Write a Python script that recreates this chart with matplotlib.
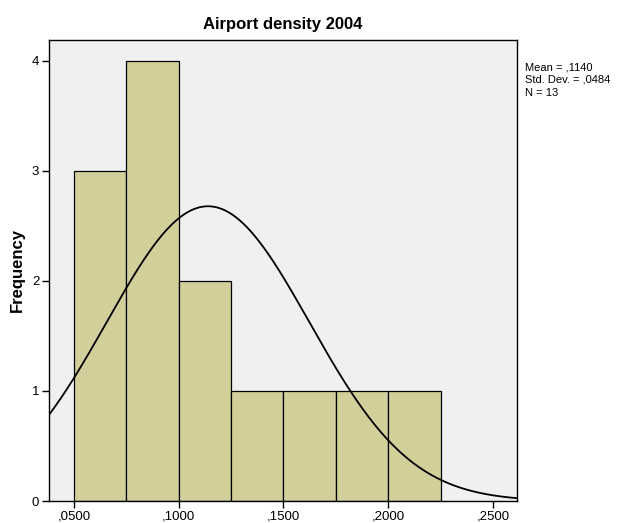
import numpy as np
import matplotlib
matplotlib.use("Agg")
import matplotlib.pyplot as plt
from matplotlib.ticker import FuncFormatter

plt.rcParams['font.family'] = ['Liberation Sans', 'DejaVu Sans']

bin_edges = [0.050, 0.075, 0.100, 0.125, 0.150, 0.175, 0.200, 0.225]
counts = [3, 4, 2, 1, 1, 1, 1]
mean = 0.1140
sd = 0.0484
n = 13
x_ticks = [0.05, 0.10, 0.15, 0.20, 0.25]
y_ticks = [0, 1, 2, 3, 4]

fig = plt.figure(figsize=(6.22, 5.23), dpi=100)
W, H = 622, 523
left, right, top, bottom = 49, 517, 40, 501
ax = fig.add_axes([left / W, 1 - bottom / H, (right - left) / W, (bottom - top) / H])
ax.set_facecolor('#F0F0F0')

widths = np.diff(bin_edges)
ax.bar(bin_edges[:-1], counts, width=widths, align='edge',
       color='#D3CF9B', edgecolor='black', linewidth=0.9, zorder=2)

binw = bin_edges[1] - bin_edges[0]
xs = np.linspace(0.0381, 0.2615, 400)
ys = n * binw / (sd * np.sqrt(2 * np.pi)) * np.exp(-0.5 * ((xs - mean) / sd) ** 2)
ax.plot(xs, ys, color='black', linewidth=1.3, zorder=3)

ax.set_xlim(0.0381, 0.2615)
ax.set_ylim(0, 4.19)
ax.set_xticks(x_ticks)
ax.set_yticks(y_ticks)
ax.xaxis.set_major_formatter(FuncFormatter(lambda v, p: ("%.4f" % v).lstrip('0').replace('.', ',')))
ax.tick_params(direction='out', length=5, width=1, labelsize=9.5, pad=2)
ax.tick_params(axis='x', pad=1.5)
for s in ax.spines.values():
    s.set_linewidth(1)

ax.set_ylabel('Frequency', fontsize=12, fontweight='bold')
ax.yaxis.set_label_coords(-0.052, 0.5)
ax.set_title('Airport density 2004', fontsize=12, fontweight='bold', pad=8)

fig.text(525 / W, 1 - 62 / H, 'Mean = ,1140\nStd. Dev. = ,0484\nN = 13',
         fontsize=8, va='top', ha='left', linespacing=1.35)

fig.savefig('out.png', dpi=100)
